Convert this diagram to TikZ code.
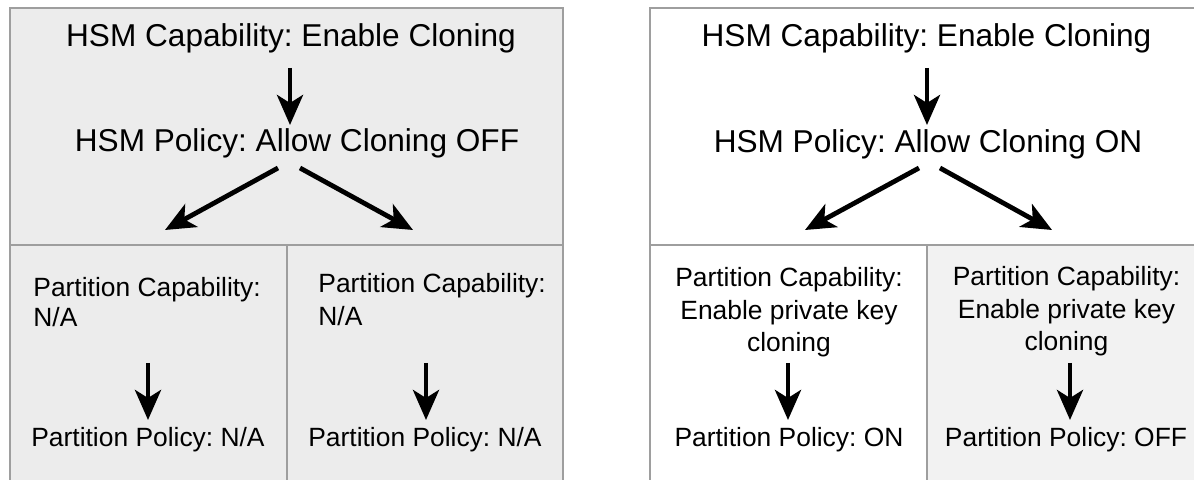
\documentclass[tikz,border=0pt]{standalone}
\usepackage{fontspec}
\setmainfont{Liberation Sans}
\usetikzlibrary{arrows.meta}
\definecolor{bordergray}{HTML}{9E9E9E}
\definecolor{lgray}{HTML}{ECECEC}
\definecolor{rgray}{HTML}{F2F2F2}
\frenchspacing
\begin{document}
\begin{tikzpicture}[x=0.5pt,y=-0.5pt,
  panel/.style={draw=bordergray,line width=1pt},
  bigtext/.style={font=\fontsize{15.8}{19}\selectfont,inner sep=0pt,anchor=base},
  smalltext/.style={font=\fontsize{13.2}{16.3}\selectfont,inner sep=0pt},
  arr/.style={line width=2.4pt,-{Stealth[length=15pt,width=13pt,inset=4pt]}}]
\clip (0,0) rectangle (1194,480);
% left panel
\draw[panel,fill=lgray] (10,8) rectangle (563,520);
\draw[panel] (10,245) -- (563,245);
\draw[panel] (287,245) -- (287,520);
% right panel
\fill[rgray] (927,245) rectangle (1220,520);
\draw[panel] (650,520) -- (650,8) -- (1220,8);
\draw[panel] (650,245) -- (1220,245);
\draw[panel] (927,245) -- (927,520);
% left top texts
\node[bigtext] (lcap) at (291,47) {HSM Capability: Enable Cloning};
\node[bigtext] (lpol) at (297,152) {HSM Policy: Allow Cloning OFF};
\coordinate (lcapout) at (290,68);
\coordinate (lpolin) at (290,125);
\draw[arr] (lcapout) -- (lpolin);
\coordinate (lpolL) at (278,168);
\coordinate (lpolR) at (300,168);
\coordinate (c1top) at (165,230);
\coordinate (c2top) at (413,230);
\draw[arr] (lpolL) -- (c1top);
\draw[arr] (lpolR) -- (c2top);
% right top texts
\node[bigtext] (rcap) at (926.5,47) {HSM Capability: Enable Cloning};
\node[bigtext] (rpol) at (928,153) {HSM Policy: Allow Cloning ON};
\coordinate (rcapout) at (927,68);
\coordinate (rpolin) at (927,125);
\draw[arr] (rcapout) -- (rpolin);
\coordinate (rpolL) at (919,168);
\coordinate (rpolR) at (940,168);
\coordinate (c3top) at (805,230);
\coordinate (c4top) at (1052,230);
\draw[arr] (rpolL) -- (c3top);
\draw[arr] (rpolR) -- (c4top);
% cell 1
\node[smalltext,font=\fontsize{13.2}{15.3}\selectfont,align=left,anchor=base west] (c1cap) at (33,327) {Partition Capability:\\N/A};
\node[smalltext,anchor=base] (c1pol) at (148,447) {Partition Policy: N/A};
\coordinate (c1a) at (148,363);
\coordinate (c1b) at (148,420);
\draw[arr] (c1a) -- (c1b);
% cell 2
\node[smalltext,font=\fontsize{13.2}{16.5}\selectfont,align=left,anchor=base west] (c2cap) at (318,326) {Partition Capability:\\N/A};
\node[smalltext,anchor=base] (c2pol) at (425,447) {Partition Policy: N/A};
\coordinate (c2a) at (426,363);
\coordinate (c2b) at (426,420);
\draw[arr] (c2a) -- (c2b);
% cell 3
\node[smalltext,align=center,anchor=base] (c3cap) at (789,352) {Partition Capability:\\Enable private key\\cloning};
\node[smalltext,anchor=base] (c3pol) at (789,447) {Partition Policy: ON};
\coordinate (c3a) at (788,363);
\coordinate (c3b) at (788,420);
\draw[arr] (c3a) -- (c3b);
% cell 4
\node[smalltext,align=center,anchor=base] (c4cap) at (1066.5,351) {Partition Capability:\\Enable private key\\cloning};
\node[smalltext,anchor=base] (c4pol) at (1066,447) {Partition Policy: OFF};
\coordinate (c4a) at (1070,363);
\coordinate (c4b) at (1070,420);
\draw[arr] (c4a) -- (c4b);
\end{tikzpicture}
\end{document}
